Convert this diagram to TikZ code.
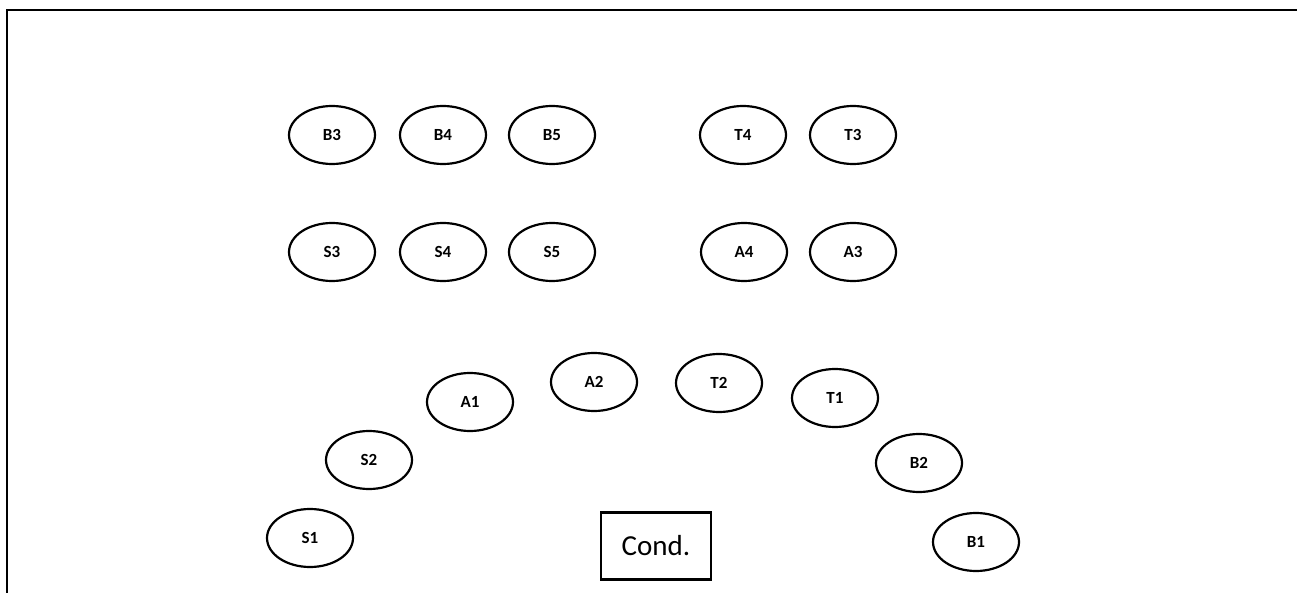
\documentclass[tikz,border=0pt]{standalone}
\usepackage{fontspec}
\setmainfont{Carlito}
\usetikzlibrary{shapes.geometric, positioning}

\begin{document}
\begin{tikzpicture}[x=1pt, y=-1pt,
  seat/.style={draw, ellipse, line width=2.2pt, minimum width=86pt, minimum height=58pt,
    inner sep=0pt, font=\fontsize{17}{19}\selectfont\bfseries},
  podium/.style={draw, rectangle, line width=2.2pt, minimum width=110pt, minimum height=67pt,
    inner sep=0pt, font=\fontsize{29}{32}\selectfont}]
\useasboundingbox (0,0) rectangle (1297,593);
% marco (solo lados superior e izquierdo)
\draw[line width=2.5pt] (7,593) -- (7,10) -- (1297,10);

% fila de atras: B y T
\node[seat] (b3) at (332,135) {B3};
\node[seat] (b4) at (443,135) {B4};
\node[seat] (b5) at (552,135) {B5};
\node[seat] (t4) at (743,135) {T4};
\node[seat] (t3) at (853,135) {T3};

% fila del medio: S y A
\node[seat] (s3) at (332,252) {S3};
\node[seat] (s4) at (443,252) {S4};
\node[seat] (s5) at (552,252) {S5};
\node[seat] (a4) at (744,252) {A4};
\node[seat] (a3) at (853,252) {A3};

% arco delantero
\node[seat] (s1) at (310,538) {S1};
\node[seat] (s2) at (369,460) {S2};
\node[seat] (a1) at (470,402) {A1};
\node[seat] (a2) at (594,382) {A2};
\node[seat] (t2) at (719,383) {T2};
\node[seat] (t1) at (835,398) {T1};
\node[seat] (b2) at (919,463) {B2};
\node[seat] (b1) at (976,542) {B1};

% director
\node[podium] (cond) at (656,546) {Cond.};
\end{tikzpicture}
\end{document}
